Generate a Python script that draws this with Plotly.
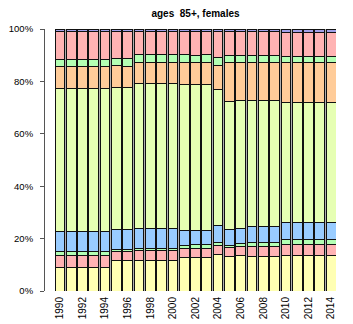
import plotly.graph_objects as go

years = list(range(1990, 2015))

# shares per layer (bottom to top), percent
layer1 = [8.9]*5 + [11.7, 11.7] + [11.8]*4 + [12.9, 12.9, 12.9, 14.1, 13.2, 13.4] + [13.0]*3 + [13.6]*5
layer2 = [4.8]*5 + [3.3, 3.3] + [3.5]*4 + [3.5, 3.2, 3.2, 3.3, 3.3, 3.7] + [3.9]*3 + [4.3]*5
layer3 = [1.2]*5 + [0.8, 0.8] + [0.8]*4 + [0.9, 1.6, 1.6, 1.3, 0.8, 1.2] + [1.8]*3 + [1.8]*5
layer4 = [7.7]*5 + [7.7, 7.6] + [7.8]*4 + [5.9, 5.5, 5.5, 6.4, 6.2, 5.7] + [6.0]*3 + [6.3]*5
layer5 = [54.8]*5 + [54.2, 54.2] + [55.4]*4 + [55.7, 55.7, 55.6, 51.9, 49.0, 48.8] + [48.1]*3 + [46.0]*5
layer6 = [8.1]*5 + [8.2, 8.2] + [8.1]*4 + [8.3, 8.2, 8.6, 9.0, 14.6, 14.4] + [14.4]*3 + [15.1]*5
layer7 = [2.9]*5 + [2.8, 2.9] + [2.8]*4 + [2.9, 2.9, 2.8, 3.2, 2.9, 2.8] + [2.7]*3 + [2.3]*5
layer8 = [10.8]*5 + [10.5, 10.5] + [9.0]*4 + [9.1, 9.2, 9.0, 10.0, 9.1, 9.1] + [9.2]*3 + [9.4]*5
layer9 = [0.8]*5 + [0.8, 0.8] + [0.8]*4 + [0.8, 0.8, 0.8, 0.8, 0.9, 0.9] + [0.9]*3 + [1.2]*5

layers = [layer1, layer2, layer3, layer4, layer5, layer6, layer7, layer8, layer9]
colors = ["#FFFFB3", "#FFB3B3", "#B3FFB3", "#99CCFF", "#E6FFB3",
          "#FFCC99", "#B3FFB3", "#FFB3B3", "#A0A0E8"]

fig = go.Figure()
for vals, col in zip(layers, colors):
    fig.add_trace(go.Bar(x=years, y=vals, marker_color=col,
                         marker_line_color="#111", marker_line_width=1,
                         showlegend=False))

# page body adds an 8px offset, margins compensate for it
gap = 0.14
fig.update_layout(
    width=353, height=324,
    barmode="stack", barnorm="percent", bargap=gap,
    margin=dict(l=36, r=25, t=21, b=41, autoexpand=False),
    plot_bgcolor="#b0b0b0", paper_bgcolor="white",
    font=dict(family="Liberation Sans, Arial", size=10, color="black"),
    title=dict(text="<b>ages  85+, females</b>", x=187.5/353, xref="container",
               xanchor="center", y=1 - 5/324, yanchor="middle", font=dict(size=10),
               automargin=False),
    xaxis=dict(domain=[11/292, 1], range=[1989.5 + gap/2, 2014.5 - gap/2],
               tickvals=years[::2], ticktext=[str(y) for y in years[::2]],
               tickangle=-90, showgrid=False, zeroline=False, showline=False,
               ticks="", ticklabelstandoff=3, automargin=False),
    yaxis=dict(range=[0, 100], anchor="free", position=0,
               tickvals=[0, 20, 40, 60, 80, 100],
               ticktext=["0%", "20%", "40%", "60%", "80%", "100%"],
               tickfont=dict(size=9.5),
               showgrid=False, zeroline=False, showline=True, linecolor="#555",
               linewidth=1, ticks="outside", ticklen=4, tickcolor="#555",
               ticklabelstandoff=5, automargin=False),
)

fig.write_html("out.html")
